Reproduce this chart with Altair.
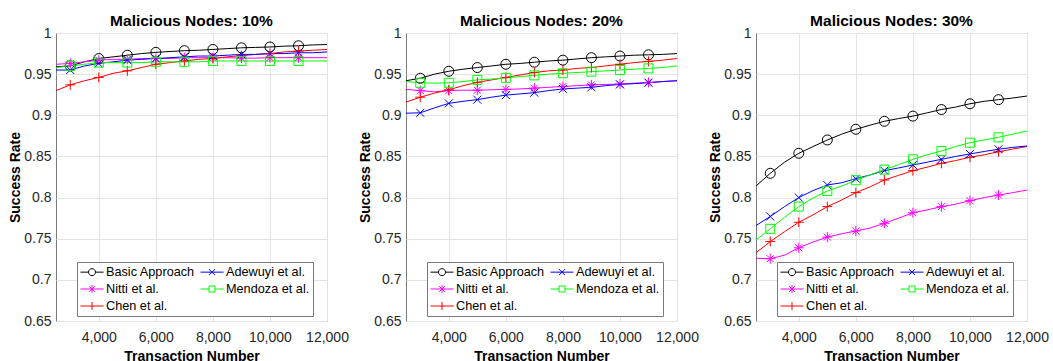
import altair as alt
import pandas as pd

# ---------------- data ----------------
X = [2500, 3000, 3500, 4000, 4500, 5000, 5500, 6000, 6500, 7000,
     7500, 8000, 8500, 9000, 9500, 10000, 10500, 11000, 11500, 12000]

# legend fills column-major: Basic / Nitti / Chen in column 1, Adewuyi / Mendoza in column 2
SERIES = ["Basic Approach", "Nitti et al.", "Chen et al.", "Adewuyi et al.", "Mendoza et al."]
COLORS = ["#000000", "#ff00ff", "#ff0000", "#0000ff", "#00ff00"]
PANELS = ["Malicious Nodes: 10%", "Malicious Nodes: 20%", "Malicious Nodes: 30%"]

# 10 % malicious nodes
basic_10 = [0.959, 0.960, 0.965, 0.969, 0.971, 0.973, 0.975, 0.9765, 0.9775, 0.9785,
            0.979, 0.980, 0.981, 0.982, 0.9825, 0.983, 0.984, 0.9845, 0.9855, 0.986]
adewuyi_10 = [0.955, 0.955, 0.960, 0.963, 0.965, 0.967, 0.968, 0.969, 0.970, 0.971,
              0.972, 0.972, 0.973, 0.974, 0.974, 0.975, 0.975, 0.976, 0.976, 0.977]
nitti_10 = [0.962, 0.963, 0.965, 0.967, 0.968, 0.968, 0.969, 0.969, 0.969, 0.970,
            0.970, 0.970, 0.970, 0.9695, 0.9695, 0.970, 0.970, 0.970, 0.970, 0.970]
mendoza_10 = [0.958, 0.960, 0.962, 0.964, 0.964, 0.964, 0.964, 0.965, 0.965, 0.965,
              0.965, 0.966, 0.966, 0.966, 0.966, 0.966, 0.966, 0.966, 0.966, 0.966]
chen_10 = [0.930, 0.937, 0.942, 0.946, 0.951, 0.954, 0.958, 0.962, 0.964, 0.966,
           0.968, 0.969, 0.971, 0.9725, 0.974, 0.975, 0.977, 0.978, 0.979, 0.980]

# 20 % malicious nodes
basic_20 = [0.942, 0.945, 0.950, 0.9535, 0.956, 0.958, 0.960, 0.962, 0.963, 0.9645,
            0.966, 0.967, 0.9685, 0.970, 0.971, 0.972, 0.973, 0.9735, 0.974, 0.975]
adewuyi_20 = [0.9025, 0.903, 0.909, 0.9145, 0.917, 0.919, 0.922, 0.9245, 0.926, 0.9275,
              0.930, 0.932, 0.933, 0.934, 0.936, 0.9375, 0.9385, 0.9395, 0.941, 0.942]
nitti_20 = [0.9315, 0.930, 0.9285, 0.930, 0.9305, 0.9305, 0.931, 0.9315, 0.932, 0.933,
            0.934, 0.935, 0.936, 0.937, 0.9375, 0.938, 0.939, 0.940, 0.941, 0.942]
mendoza_20 = [0.941, 0.9395, 0.939, 0.9395, 0.941, 0.943, 0.944, 0.9455, 0.947, 0.9485,
              0.950, 0.951, 0.952, 0.953, 0.954, 0.955, 0.956, 0.957, 0.958, 0.960]
chen_20 = [0.916, 0.922, 0.927, 0.931, 0.936, 0.940, 0.943, 0.946, 0.949, 0.952,
           0.954, 0.955, 0.957, 0.958, 0.960, 0.962, 0.964, 0.9655, 0.967, 0.969]

# 30 % malicious nodes
basic_30 = [0.814, 0.8295, 0.843, 0.8538, 0.862, 0.870, 0.877, 0.883, 0.888, 0.8927,
            0.896, 0.899, 0.903, 0.907, 0.910, 0.914, 0.917, 0.919, 0.921, 0.9234]
adewuyi_30 = [0.766, 0.777, 0.789, 0.800, 0.8085, 0.8153, 0.818, 0.823, 0.8275, 0.8327,
              0.836, 0.8396, 0.843, 0.8465, 0.850, 0.853, 0.856, 0.8587, 0.861, 0.8627]
nitti_30 = [0.7262, 0.7257, 0.730, 0.739, 0.746, 0.752, 0.756, 0.7594, 0.763, 0.7687,
            0.775, 0.7816, 0.785, 0.789, 0.792, 0.7962, 0.800, 0.803, 0.806, 0.8092]
mendoza_30 = [0.7485, 0.762, 0.776, 0.789, 0.7995, 0.808, 0.814, 0.821, 0.8275, 0.834,
              0.840, 0.8465, 0.852, 0.8566, 0.862, 0.8667, 0.870, 0.8732, 0.877, 0.881]
chen_30 = [0.733, 0.7465, 0.7585, 0.770, 0.779, 0.789, 0.797, 0.806, 0.813, 0.8214,
           0.827, 0.8327, 0.837, 0.8416, 0.845, 0.849, 0.852, 0.8557, 0.859, 0.862]

# same order as SERIES
PANEL_DATA = [
    [basic_10, nitti_10, chen_10, adewuyi_10, mendoza_10],
    [basic_20, nitti_20, chen_20, adewuyi_20, mendoza_20],
    [basic_30, nitti_30, chen_30, adewuyi_30, mendoza_30],
]

MARKER_X = [3000, 4000, 5000, 6000, 7000, 8000, 9000, 10000, 11000]
Y_TICKS = [0.65, 0.7, 0.75, 0.8, 0.85, 0.9, 0.95, 1.0]
X_TICKS = [4000, 6000, 8000, 10000, 12000]

# marker shapes (MATLAB-like), same order as SERIES: o, *, +, x, square
MARKERS = [
    "M-1,0A1,1 0 1,0 1,0A1,1 0 1,0 -1,0Z",
    "M-1,0L1,0M0,-1L0,1M-0.7,-0.7L0.7,0.7M-0.7,0.7L0.7,-0.7",
    "M-1,0L1,0M0,-1L0,1",
    "M-0.8,-0.8L0.8,0.8M-0.8,0.8L0.8,-0.8",
    "M-0.9,-0.9L0.9,-0.9L0.9,0.9L-0.9,0.9Z",
]
# legend glyphs: a 23px line with the marker on it (unit = 6.5px at symbolSize 169)
LEGEND_GLYPHS = [
    "M-1.77,0L-0.54,0M0.54,0L1.77,0M-0.54,0A0.54,0.54 0 1,0 0.54,0A0.54,0.54 0 1,0 -0.54,0Z",
    "M-1.77,0L1.77,0M0,-0.6L0,0.6M-0.43,-0.43L0.43,0.43M-0.43,0.43L0.43,-0.43",
    "M-1.77,0L1.77,0M0,-0.62L0,0.62",
    "M-1.77,0L1.77,0M-0.46,-0.46L0.46,0.46M-0.46,0.46L0.46,-0.46",
    "M-1.77,0L-0.46,0M0.46,0L1.77,0M-0.46,-0.46L0.46,-0.46L0.46,0.46L-0.46,0.46Z",
]

FONT = "Liberation Sans"

rows = []
for p, panel in enumerate(PANELS):
    for s, name in enumerate(SERIES):
        for xv, yv in zip(X, PANEL_DATA[p][s]):
            rows.append({"panel": panel, "series": name, "x": xv, "y": yv,
                         "marker": xv in MARKER_X})
df = pd.DataFrame(rows)


def make_panel(panel):
    base = alt.Chart(df).transform_filter(alt.datum.panel == panel)
    xenc = alt.X("x:Q", scale=alt.Scale(domain=[2500, 12000], nice=False, zero=False),
                 axis=alt.Axis(values=X_TICKS, format=",d", title="Transaction Number",
                               labelPadding=9, titlePadding=5, labelFlush=False,
                               labelOverlap=False, grid=True))
    yenc = alt.Y("y:Q", scale=alt.Scale(domain=[0.65, 1.0], nice=False, zero=False),
                 axis=alt.Axis(values=Y_TICKS, format="~g", title="Success Rate",
                               labelPadding=5, titlePadding=1, labelFlush=False,
                               labelOverlap=False, grid=True))
    cscale = alt.Scale(domain=SERIES, range=COLORS)

    lines = base.mark_line(strokeWidth=1, clip=True).encode(
        x=xenc, y=yenc,
        color=alt.Color("series:N", scale=cscale, legend=None),
        detail="series:N",
        order="x:Q",
    )
    points = base.transform_filter(alt.datum.marker).mark_point(
        filled=False, strokeWidth=1, size=100, opacity=1, clip=True
    ).encode(
        x=xenc, y=yenc,
        color=alt.Color("series:N", scale=cscale, legend=None),
        shape=alt.Shape("series:N", scale=alt.Scale(domain=SERIES, range=MARKERS), legend=None),
    )
    leg = alt.Legend(title=None, orient="none", legendX=21, legendY=229, columns=2,
                     columnPadding=3, rowPadding=3, padding=3,
                     strokeColor="#7a7a7a", fillColor="white",
                     symbolSize=169, symbolStrokeWidth=1, symbolOffset=5,
                     labelOffset=7,
                     labelFont=FONT, labelFontSize=12.7, labelColor="#000000",
                     labelLimit=0)
    legend_layer = base.transform_filter("false").mark_point(
        filled=False, strokeWidth=1, opacity=1
    ).encode(
        x=xenc, y=yenc,
        color=alt.Color("series:N", scale=cscale, legend=leg),
        shape=alt.Shape("series:N", scale=alt.Scale(domain=SERIES, range=LEGEND_GLYPHS), legend=leg),
    )
    return alt.layer(lines, points, legend_layer).resolve_scale(
        color="independent", shape="independent"
    ).properties(
        width=271, height=288,
        title=alt.TitleParams(panel, fontSize=15.5, fontWeight="bold", font=FONT,
                              color="#000000", offset=-3, anchor="middle", frame="group"),
    )


chart = alt.hconcat(
    *[make_panel(p) for p in PANELS], spacing=79, bounds="flush"
).resolve_scale(
    color="independent", shape="independent"
).properties(
    padding={"left": 8, "top": 13, "right": 0, "bottom": 0},
    background="white",
).configure_view(
    stroke="#7a7a7a", strokeWidth=1
).configure_axis(
    labelFont=FONT, labelFontSize=14, labelColor="#262626",
    titleFont=FONT, titleFontSize=14, titleFontWeight="bold", titleColor="#000000",
    gridColor="#e3e3e3", gridWidth=1, domain=False, ticks=False, tickSize=0,
)

chart.save("out.html", embed_options={"renderer": "svg", "actions": False})
